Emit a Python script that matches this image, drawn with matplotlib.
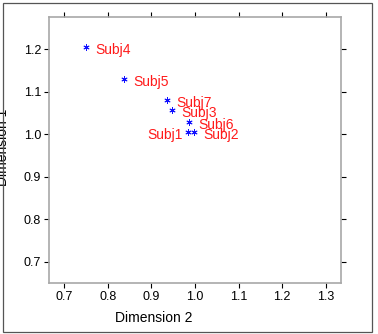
import matplotlib
matplotlib.use('Agg')
import matplotlib.pyplot as plt
from matplotlib.patches import Rectangle

plt.rcParams['font.family'] = ['Liberation Sans', 'DejaVu Sans']

subjects = ['Subj1', 'Subj2', 'Subj3', 'Subj4', 'Subj5', 'Subj6', 'Subj7']
dim2 = [0.985, 0.998, 0.948, 0.751, 0.837, 0.987, 0.936]
dim1 = [1.004, 1.004, 1.056, 1.205, 1.129, 1.029, 1.080]
# labels placed on the left of the point
left_labels = ['Subj1']

xticks = [0.7, 0.8, 0.9, 1.0, 1.1, 1.2, 1.3]
yticks = [0.7, 0.8, 0.9, 1.0, 1.1, 1.2]

fig = plt.figure(figsize=(3.78, 3.34), dpi=100)
ax = fig.add_axes([0.1296, 0.1527, 0.7725, 0.796])

ax.scatter(dim2, dim1, marker=(6, 2, 0), s=15, color='#1010ff', linewidths=0.7)
for name, x, y in zip(subjects, dim2, dim1):
    if name in left_labels:
        ax.annotate(name, (x, y), xytext=(-4.5, -2.2), textcoords='offset points',
                    ha='right', va='center', color='#ff1a1a', fontsize=10)
    else:
        ax.annotate(name, (x, y), xytext=(6.5, -2.2), textcoords='offset points',
                    ha='left', va='center', color='#ff1a1a', fontsize=10)

ax.set_xlim(0.665, 1.335)
ax.set_ylim(0.65, 1.275)
ax.set_xticks(xticks)
ax.set_yticks(yticks)
ax.set_xticklabels([f'{v:.1f}' for v in xticks])
ax.set_yticklabels([f'{v:.1f}' for v in yticks])
ax.tick_params(direction='out', length=3.6, width=0.8, top=True, right=True,
               labelsize=9, pad=2, color='black')

for sp in ax.spines.values():
    sp.set_color('#a8a8a8')
    sp.set_linewidth(1.2)

ax.set_xlabel('Dimension 2', fontsize=10)
ax.xaxis.set_label_coords(0.36, -0.105)
ax.set_ylabel('Dimension 1', fontsize=10)
ax.yaxis.set_label_coords(-0.133, 0.51)

fig.patches.append(Rectangle((0.007, 0.006), 0.977, 0.984, transform=fig.transFigure,
                             fill=False, edgecolor='#555555', linewidth=0.9))

fig.savefig('out.png', dpi=100)
